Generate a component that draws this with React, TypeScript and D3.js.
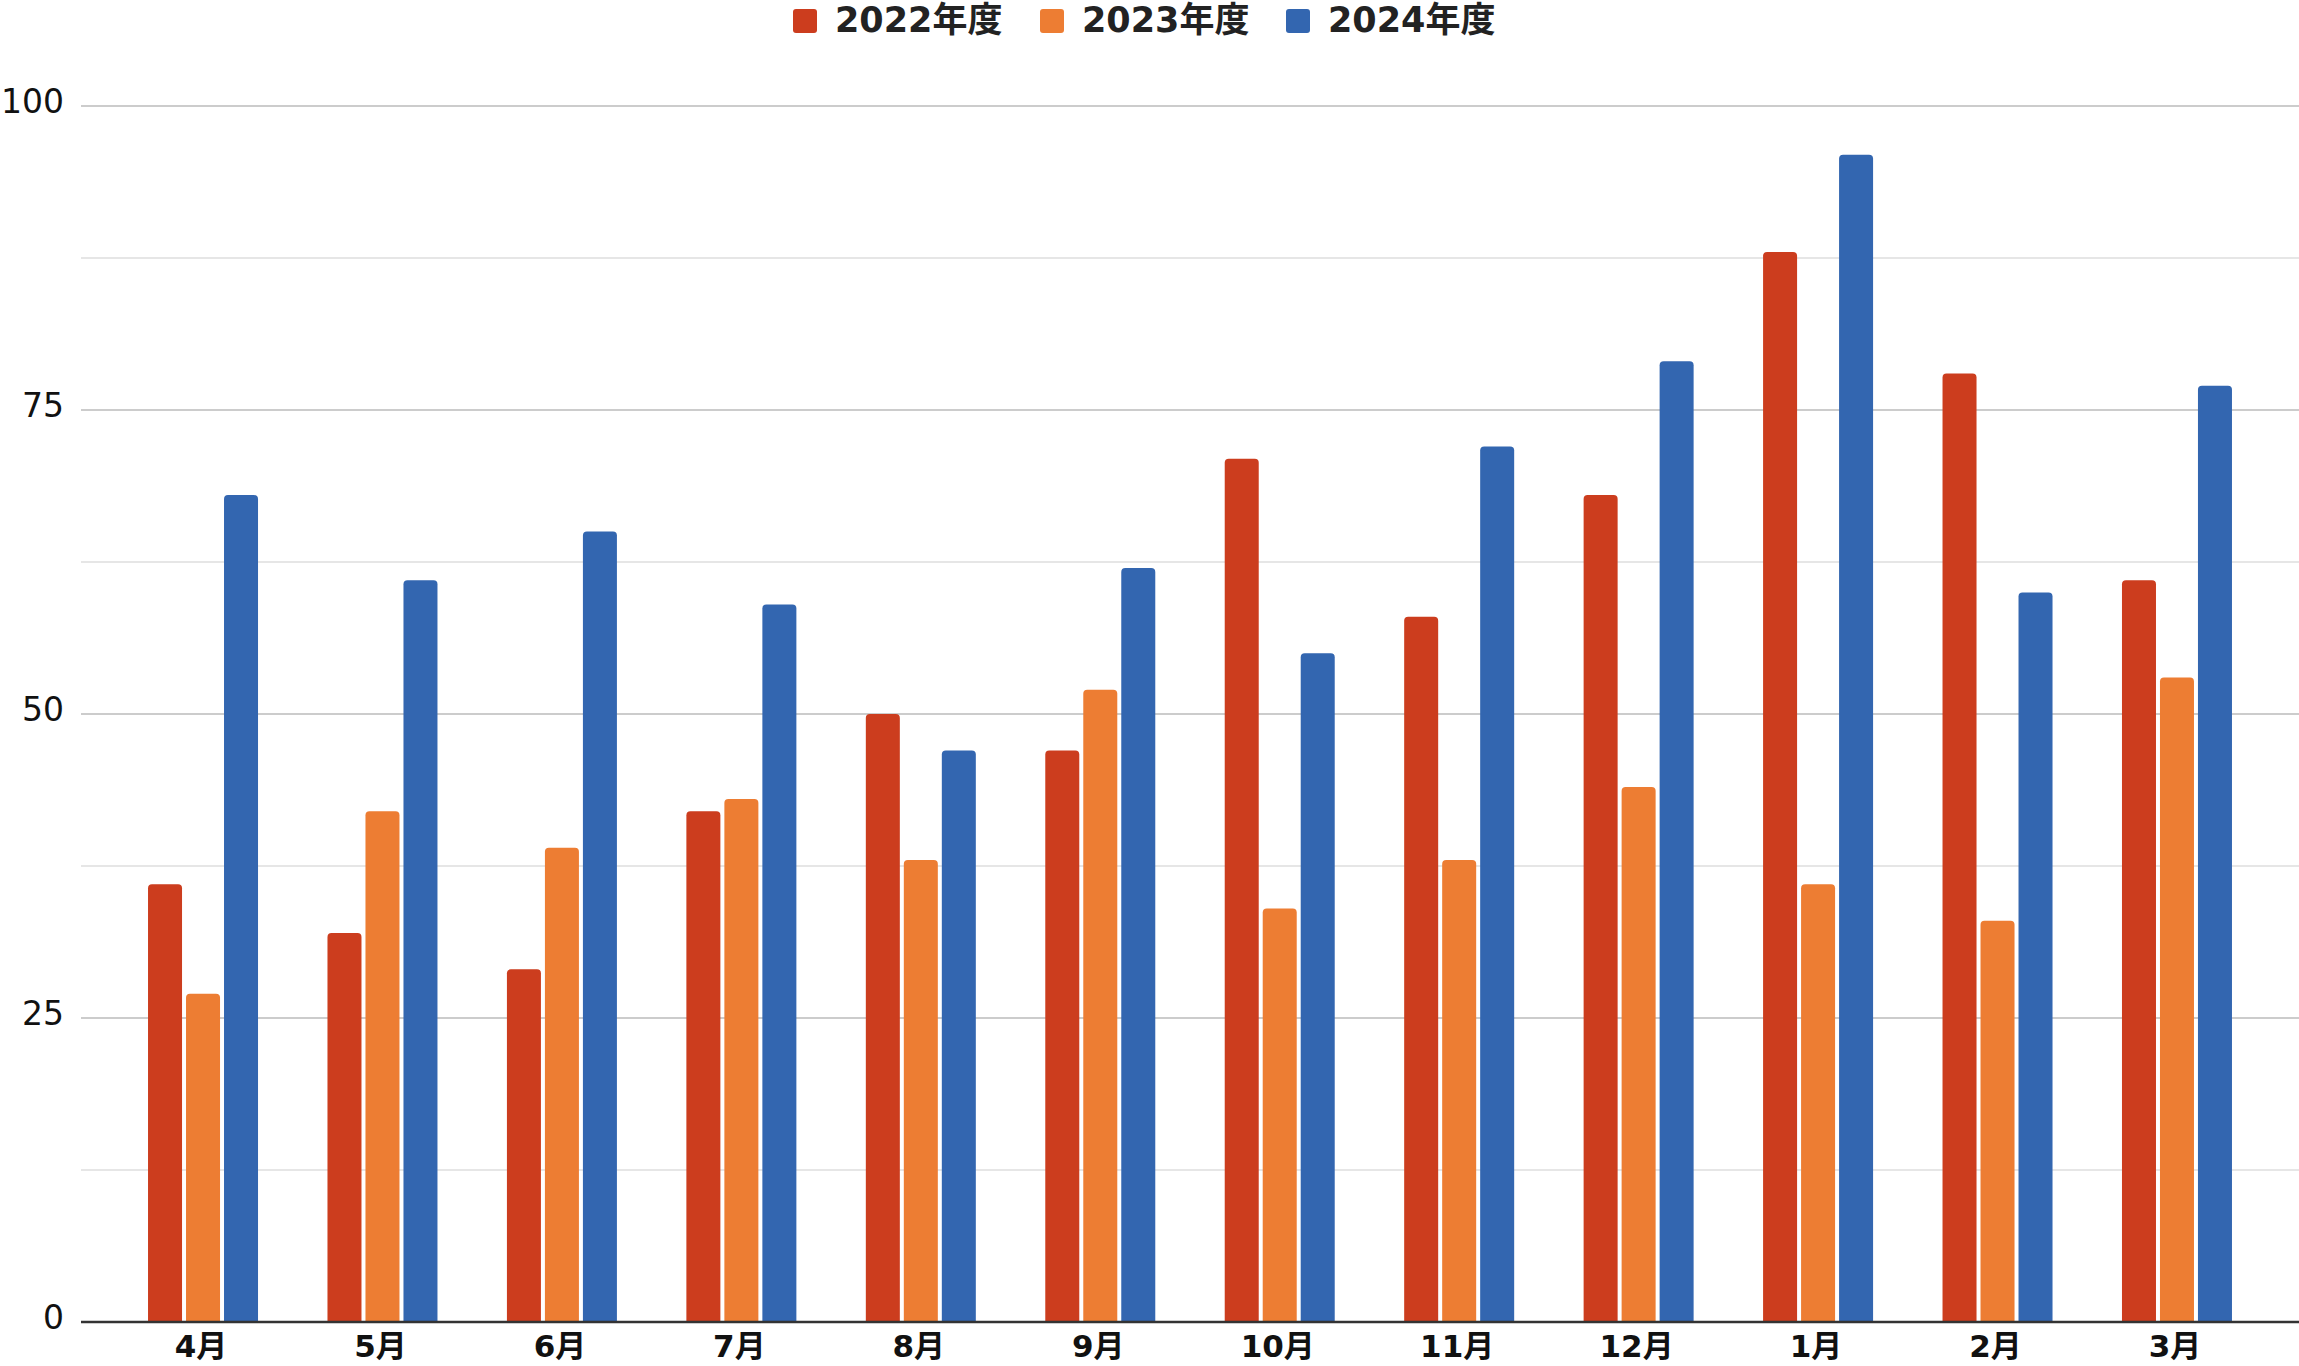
import React from "react";
import * as d3 from "d3";

const months = ["4月", "5月", "6月", "7月", "8月", "9月", "10月", "11月", "12月", "1月", "2月", "3月"];
const seriesNames = ["2022年度", "2023年度", "2024年度"];
const seriesColors = ["#cc3d1e", "#ed7d33", "#3366b0"];
const values2022 = [36, 32, 29, 42, 50, 47, 71, 58, 68, 88, 78, 61];
const values2023 = [27, 42, 39, 43, 38, 52, 34, 38, 44, 36, 33, 53];
const values2024 = [68, 61, 65, 59, 47, 62, 55, 72, 79, 96, 60, 77];
const yTicks = [0, 25, 50, 75, 100];
const minorTicks = [12.5, 37.5, 62.5, 87.5];

const W = 2299;
const H = 1366;
const FONT = "'DejaVu Sans', 'Noto Sans CJK JP', sans-serif";

function topRoundedBar(x: number, y: number, w: number, h: number, r: number) {
  const rr = Math.min(r, h, w / 2);
  return `M${x},${y + h}V${y + rr}Q${x},${y} ${x + rr},${y}H${x + w - rr}Q${x + w},${y} ${x + w},${y + rr}V${y + h}Z`;
}

export default function App() {
  const left = 81;
  const right = 2299;
  const top = 106;
  const bottom = 1322;
  const series = [values2022, values2023, values2024];

  const x = d3.scaleBand<string>().domain(months).range([left, right]).paddingInner(0).paddingOuter(0.18);
  const y = d3.scaleLinear().domain([0, 100]).range([bottom, top]);
  const groupW = 110;
  const inner = d3
    .scaleBand<string>()
    .domain(seriesNames)
    .range([0, groupW])
    .paddingInner(0.105)
    .paddingOuter(0);

  const legendX = [793, 1040, 1286];

  return (
    <svg width={W} height={H} style={{ display: "block", position: "absolute", left: 0, top: 0 }}>
      <style>{`body{margin:0}`}</style>
      <rect width={W} height={H} fill="#ffffff" />
      {minorTicks.map((t) => (
        <line key={"m" + t} x1={left} x2={right} y1={y(t)} y2={y(t)} stroke="#e6e6e6" strokeWidth={2} />
      ))}
      {yTicks.filter((t) => t !== 0).map((t) => (
        <line key={"g" + t} x1={left} x2={right} y1={y(t)} y2={y(t)} stroke="#cccccc" strokeWidth={2} />
      ))}
      {yTicks.map((t) => (
        <text
          key={"t" + t}
          x={64}
          y={y(t) - 3}
          textAnchor="end"
          dominantBaseline="middle"
          fontFamily={FONT}
          fontSize={33}
          fill="#111"
        >
          {t}
        </text>
      ))}
      {months.map((m, i) => {
        const cx = (x(m) as number) + x.bandwidth() / 2;
        const gx = cx - groupW / 2;
        return (
          <g key={m}>
            {series.map((vals, s) => {
              const bx = gx + (inner(seriesNames[s]) as number);
              const by = y(vals[i]);
              return (
                <path
                  key={s}
                  d={topRoundedBar(bx, by, inner.bandwidth(), bottom - by, 4)}
                  fill={seriesColors[s]}
                />
              );
            })}
            <text
              x={cx - 2}
              y={1348}
              textAnchor="middle"
              dominantBaseline="middle"
              fontFamily={FONT}
              fontWeight={700}
              fontSize={31}
              fill="#111"
            >
              {m}
            </text>
          </g>
        );
      })}
      <line x1={left} x2={right} y1={bottom} y2={bottom} stroke="#333333" strokeWidth={2.5} />
      {seriesNames.map((n, s) => (
        <g key={n}>
          <rect x={legendX[s]} y={9} width={24} height={24} rx={3} fill={seriesColors[s]} />
          <text
            x={legendX[s] + 42}
            y={22}
            dominantBaseline="middle"
            fontFamily={FONT}
            fontWeight={700}
            fontSize={35}
            fill="#222"
          >
            {n}
          </text>
        </g>
      ))}
    </svg>
  );
}
